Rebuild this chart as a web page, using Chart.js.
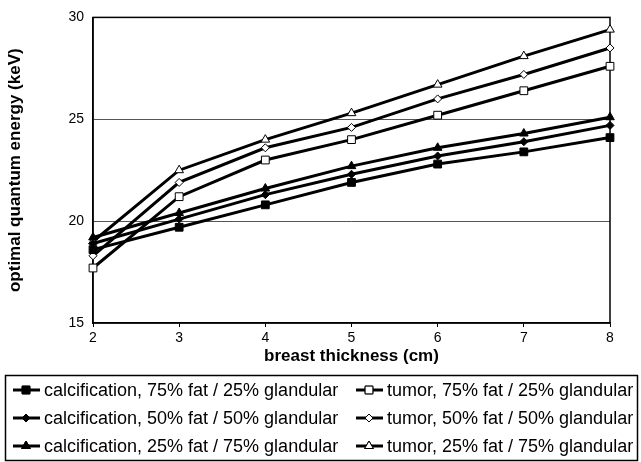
<!DOCTYPE html>
<html>
<head>
<meta charset="utf-8">
<script src="https://cdn.jsdelivr.net/npm/chart.js@4/dist/chart.umd.min.js"></script>
<style>
    html, body { margin: 0; padding: 0; background: #fff; }
    #wrap { width: 641px; height: 462px; }
</style>
</head>
<body>
<div id="wrap"><canvas id="chart" width="641" height="462"></canvas></div>
<script>
// Données
const thickness = ['2', '3', '4', '5', '6', '7', '8'];
const calc75 = [18.6, 19.7, 20.8, 21.9, 22.8, 23.4, 24.1];
const calc50 = [18.9, 20.1, 21.3, 22.3, 23.2, 23.9, 24.7];
const calc25 = [19.2, 20.4, 21.6, 22.7, 23.6, 24.3, 25.1];
const tumor75 = [17.7, 21.2, 23.0, 24.0, 25.2, 26.4, 27.6];
const tumor50 = [18.3, 21.9, 23.6, 24.6, 26.0, 27.2, 28.5];
const tumor25 = [19.0, 22.5, 24.0, 25.3, 26.7, 28.1, 29.4];
const yTicks = [15, 20, 25, 30];

const FONT = '"Liberation Sans", Arial, sans-serif';

function serie(label, data, style, filled, radius) {
    return {
        label: label,
        data: data,
        borderColor: '#000',
        borderWidth: 3,
        pointStyle: style,
        pointRadius: radius,
        pointBorderWidth: 1,
        pointBorderColor: '#000',
        pointBackgroundColor: filled ? '#000' : '#fff',
        tension: 0
    };
}

// Ordre = ordre de la légende (ligne par ligne, 2 colonnes)
const datasets = [
    serie('calcification, 75% fat / 25% glandular', calc75, 'rect', true, 5.5),
    serie('tumor, 75% fat / 25% glandular', tumor75, 'rect', false, 5.5),
    serie('calcification, 50% fat / 50% glandular', calc50, 'rectRot', true, 4),
    serie('tumor, 50% fat / 50% glandular', tumor50, 'rectRot', false, 4),
    serie('calcification, 25% fat / 75% glandular', calc25, 'triangle', true, 5),
    serie('tumor, 25% fat / 75% glandular', tumor25, 'triangle', false, 5)
];

// Cadre de la zone de tracé + légende encadrée en bas
const framePlugin = {
    id: 'frame',
    beforeDatasetsDraw(chart) {
        const { ctx, chartArea: a } = chart;
        ctx.save();
        ctx.strokeStyle = '#000';
        ctx.lineWidth = 1.5;
        ctx.strokeRect(a.left, a.top, a.right - a.left, a.bottom - a.top);
        ctx.restore();
    },
    afterDraw(chart) {
        const ctx = chart.ctx;
        ctx.save();
        ctx.strokeStyle = '#000';
        ctx.lineWidth = 1.5;
        ctx.strokeRect(5.5, 375.5, 632, 85);
        ctx.font = '18px ' + FONT;
        ctx.fillStyle = '#000';
        ctx.textBaseline = 'middle';
        const cols = [13, 356];
        const rows = [390, 418, 446];
        chart.data.datasets.forEach((ds, i) => {
            const x = cols[i % 2];
            const y = rows[Math.floor(i / 2)];
            ctx.beginPath();
            ctx.lineWidth = 3;
            ctx.moveTo(x, y);
            ctx.lineTo(x + 27, y);
            ctx.stroke();
            ctx.lineWidth = 1;
            Chart.helpers.drawPoint(ctx, {
                pointStyle: ds.pointStyle,
                rotation: 0,
                radius: ds.pointRadius,
                borderWidth: 1
            }, x + 13, y);
            ctx.fillStyle = ds.pointBackgroundColor;
            ctx.fill();
            ctx.stroke();
            ctx.fillStyle = '#000';
            ctx.fillText(ds.label, x + 31, y + 1);
        });
        ctx.restore();
    }
};

new Chart(document.getElementById('chart'), {
    type: 'line',
    data: { labels: thickness, datasets: datasets },
    plugins: [framePlugin],
    options: {
        responsive: false,
        animation: false,
        layout: { padding: { top: 14, right: 31, bottom: 95, left: 5 } },
        plugins: {
            legend: { display: false },
            tooltip: { enabled: false }
        },
        scales: {
            x: {
                offset: false,
                grid: { drawOnChartArea: false, drawTicks: true, tickLength: 4, color: '#000' },
                border: { color: '#000', width: 1.5 },
                ticks: { color: '#000', font: { family: FONT, size: 14 }, padding: 3, maxRotation: 0 },
                title: { display: true, text: 'breast thickness (cm)', color: '#000', font: { family: FONT, size: 17, weight: 'bold' }, padding: { top: 0, bottom: 0 } },
                afterFit(scale) { scale.height = 44; }
            },
            y: {
                min: 15,
                max: 30,
                afterBuildTicks(scale) { scale.ticks = yTicks.map(v => ({ value: v })); },
                grid: {
                    drawTicks: false,
                    color: c => (c.tick.value === 20 || c.tick.value === 25) ? '#555' : 'rgba(0,0,0,0)',
                    lineWidth: 1
                },
                border: { color: '#000', width: 1.5 },
                ticks: { color: '#000', font: { family: FONT, size: 14 }, padding: 9 },
                title: { display: true, text: 'optimal quantum energy (keV)', color: '#000', font: { family: FONT, size: 17, weight: 'bold' }, padding: { top: 0, bottom: 0 } },
                afterFit(scale) { scale.width = 88; }
            }
        }
    }
});
</script>
</body>
</html>
